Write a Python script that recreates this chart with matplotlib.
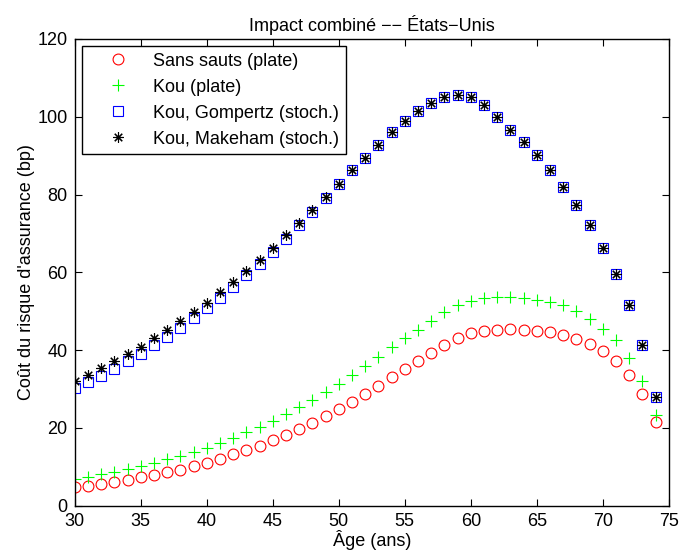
import numpy as np
import matplotlib
matplotlib.use('Agg')
import matplotlib.pyplot as plt

plt.rcParams['font.family'] = ['Liberation Sans', 'DejaVu Sans']

# ages (years)
ages = np.arange(30, 75)

# insurance risk cost (bp)
sans_sauts = [4.7, 5.1, 5.6, 6.1, 6.7, 7.3, 7.9, 8.6, 9.3, 10.2,
              11.1, 12.0, 13.2, 14.3, 15.4, 16.8, 18.1, 19.7, 21.3, 23.1,
              24.9, 26.7, 28.7, 30.8, 33.0, 35.1, 37.3, 39.4, 41.3, 43.0,
              44.3, 45.0, 45.3, 45.4, 45.2, 45.0, 44.6, 43.8, 42.9, 41.5,
              39.7, 37.1, 33.6, 28.8, 21.5]
kou_plate = [7.0, 7.5, 8.1, 8.8, 9.5, 10.1, 11.1, 12.0, 12.8, 13.8,
             14.9, 16.2, 17.4, 18.9, 20.3, 21.9, 23.6, 25.5, 27.2, 29.2,
             31.3, 33.5, 35.9, 38.3, 40.7, 43.0, 45.3, 47.6, 49.7, 51.5,
             52.7, 53.4, 53.7, 53.7, 53.5, 53.0, 52.4, 51.5, 50.0, 48.0,
             45.5, 42.5, 38.0, 32.1, 23.4]
kou_gompertz = [30.2, 31.7, 33.4, 35.2, 37.1, 39.1, 41.2, 43.4, 45.8, 48.2,
                50.8, 53.5, 56.3, 59.2, 62.1, 65.2, 68.6, 72.2, 75.5, 79.1,
                82.6, 86.2, 89.5, 92.8, 96.0, 98.8, 101.5, 103.5, 105.0, 105.5,
                105.0, 103.1, 100.0, 96.7, 93.6, 90.1, 86.2, 81.9, 77.2, 72.1,
                66.3, 59.7, 51.5, 41.3, 28.0]
kou_makeham = [32.1, 33.7, 35.3, 37.2, 38.9, 40.9, 43.0, 45.1, 47.4, 49.7,
               52.2, 54.9, 57.5, 60.3, 63.3, 66.3, 69.5, 72.6, 76.1, 79.3,
               82.7, 86.2, 89.5, 92.8, 96.0, 98.8, 101.5, 103.5, 105.0, 105.5,
               105.0, 103.1, 100.0, 96.7, 93.6, 90.1, 86.2, 81.9, 77.2, 72.1,
               66.3, 59.7, 51.5, 41.3, 28.0]

fig = plt.figure(figsize=(6.79, 5.57), dpi=100)
ax = fig.add_axes([0.110, 0.092, 0.875, 0.838])

ax.plot(ages, sans_sauts, 'o', color='r', mfc='none', markersize=7.8, mew=0.8,
        label='Sans sauts (plate)')
ax.plot(ages, kou_plate, '+', color='#00ff00', markersize=8.5, mew=0.8,
        label='Kou (plate)')
ax.plot(ages, kou_gompertz, 's', color='b', mfc='none', markersize=6.8, mew=0.8,
        label='Kou, Gompertz (stoch.)')
ax.plot(ages, kou_makeham, marker=(8, 2, 0), ls='none', color='k', markersize=7.5, mew=0.8,
        label='Kou, Makeham (stoch.)')

ax.set_xlim(30, 75)
ax.set_ylim(0, 120)
ax.set_xticks(np.arange(30, 76, 5))
ax.set_yticks(np.arange(0, 121, 20))
ax.tick_params(direction='in', top=True, right=True, labelsize=13, length=5)
ax.tick_params(axis='x', pad=5)
ax.tick_params(axis='y', pad=5)
for s in ax.spines.values():
    s.set_linewidth(1.0)

ax.set_xlabel('\u00c2ge (ans)', fontsize=13, labelpad=0)
ax.set_ylabel("Co\u00fbt du risque d'assurance (bp)", fontsize=13, labelpad=2)
ax.set_title('Impact combin\u00e9 \u2212\u2212 \u00c9tats\u2212Unis', fontsize=13, pad=6)

leg = ax.legend(loc='upper left', fontsize=13, fancybox=False, edgecolor='k',
                framealpha=1, borderaxespad=0.4, handlelength=3.3,
                handletextpad=0.3, labelspacing=0.5, borderpad=0.35)
leg.get_frame().set_linewidth(1.0)

fig.savefig('out.png', dpi=100)
